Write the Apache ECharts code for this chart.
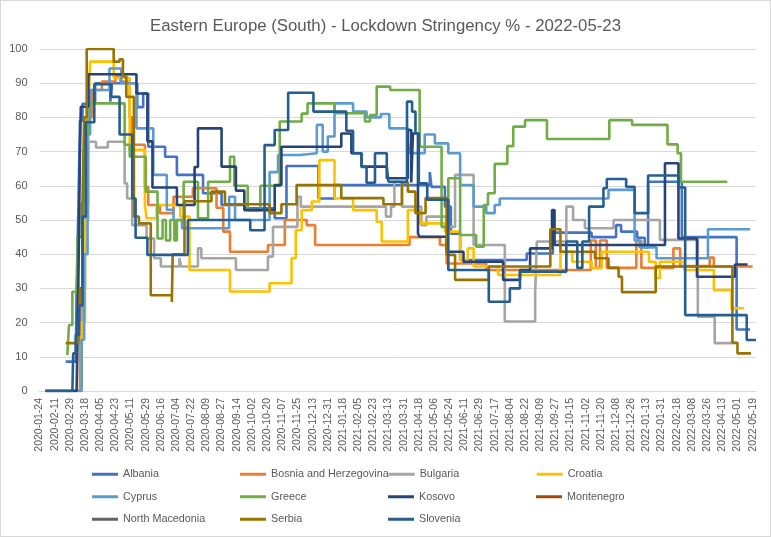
<!DOCTYPE html>
<html><head><meta charset="utf-8">
<script src="https://cdn.jsdelivr.net/npm/echarts@6/dist/echarts.min.js"></script>
<style>
html,body{margin:0;padding:0;background:#fff}
#wrap{position:relative;width:771px;height:537px}
#c{position:absolute;left:0;top:0;width:771px;height:537px}
#b{position:absolute;left:0;top:0;width:771px;height:537px;box-sizing:border-box;border:1px solid #d9d9d9;pointer-events:none}
</style>
</head><body><div id="wrap"><div id="c"></div><div id="b"></div></div>
<script>
// x = days since START (2020-01-24); each point = [day the value starts, stringency %]
const START = '2020-01-24';
const TITLE = 'Eastern Europe (South) - Lockdown Stringency % - 2022-05-23';
const names = ['Albania','Bosnia and Herzegovina','Bulgaria','Croatia','Cyprus','Greece','Kosovo','Montenegro','North Macedonia','Serbia','Slovenia'];
const colors = ['#4472C4','#ED7D31','#A5A5A5','#FFC000','#5B9BD5','#70AD47','#264478','#9E480E','#636363','#997300','#255E91'];

const albania = [[31,8.6],[43,8.6],[44,30],[46,52],[48,79],[51,84],[66,90],[84,84.6],[86,90],[116,83],[123,87],[129,71.4],[149,68.5],[163,63.2],[194,57.8],[216,54.4],[243,53.4],[279,50.5],[293,65.8],[331,56.3],[350,60.2],[463,64],[465,59.7],[481,53.9],[488,46],[499,38.3],[578,40.2],[609,46.3],[655,45],[684,48.5],[690,46.6],[709,44.8],[718,42],[722,61.2],[762,45],[827,18],[843,18]];
const bosnia = [[7,0],[45,0],[48,30],[52,60],[56,80],[62,88],[74,90.5],[90,92],[96,90.5],[107,80],[110,72],[125,59.7],[129,54.4],[143,52],[159,56.8],[182,59.3],[210,53.6],[218,46.6],[226,40.7],[271,42.7],[291,50],[317,48.5],[327,42.7],[439,45],[475,42.7],[483,37.3],[530,35.4],[654,44],[660,36],[665,44],[673,36],[708,44],[714,36],[752,41.7],[760,36.5],[795,39],[800,36.4],[846,36.4]];
const bulgaria = [[7,0],[46,0],[50,30],[54,55],[58,72.9],[67,71.2],[81,72.9],[101,60.7],[104,56.3],[110,48.5],[127,44.6],[136,38.8],[144,36.4],[166,38.8],[168,36.4],[188,41.7],[192,38.8],[233,35.4],[271,39.3],[277,48],[306,56.8],[310,53.9],[411,51],[417,53.9],[421,61.2],[430,53.9],[453,48.5],[459,51],[483,48],[493,63.2],[515,42.7],[552,20.3],[588,28.6],[590,43.7],[625,53.9],[633,50],[647,47.6],[681,50],[736,44.2],[781,21.7],[801,14],[826,14]];
const croatia = [[7,0],[46,0],[50,20],[54,50],[58,80],[60,96.3],[88,91.5],[107,70.5],[125,54.4],[127,50.5],[139,54.4],[167,51],[178,35.4],[226,29.1],[273,31.5],[299,38.8],[304,47],[311,52.9],[323,55.4],[332,67.5],[350,56.3],[372,52.9],[400,49.5],[406,43.7],[437,52.9],[451,49],[481,46.6],[499,38.3],[508,41.7],[515,36.4],[544,33.9],[618,40.7],[632,37.8],[655,35.9],[667,40.7],[723,37.8],[731,33],[736,37.8],[765,35.4],[800,29.5],[821,24.2],[836,24.2]];
const cyprus = [[7,0],[47,0],[50,15],[53,40],[57,75],[60,88],[83,94.3],[97,90],[115,76.8],[135,63.2],[151,53],[159,50],[169,47.6],[225,56.8],[232,50],[268,50],[273,64],[283,69],[309,69.5],[329,77.8],[336,70],[342,74.4],[350,84.1],[372,81.7],[388,80],[405,81],[415,76.8],[437,72.9],[439,69.5],[457,75],[469,72.4],[485,69.5],[499,60.2],[515,53.9],[530,52],[540,54.4],[546,56.3],[675,58.8],[706,44],[712,42],[732,38.8],[793,47.3],[843,47.3]];
const greece = [[33,10.5],[35,19.3],[39,29],[45,45],[50,55],[54,75],[58,84.1],[101,72],[107,68.5],[126,58.3],[140,44.6],[146,50],[150,44],[155,50],[160,44],[163,50],[171,61.2],[188,50.5],[200,61.2],[226,68.5],[231,60],[247,52.9],[262,60],[285,78.8],[311,81.1],[318,84.1],[350,81.2],[386,78.8],[392,80.7],[400,89],[416,88],[451,71.4],[477,48],[485,62.2],[499,45.6],[518,42.2],[527,54.4],[532,57.8],[540,66.4],[555,71.6],[562,77.3],[576,79.2],[602,73.7],[676,79.2],[703,77.8],[745,72.1],[757,69.5],[761,61.2],[816,61.2]];
const kosovo = [[7,0],[44,0],[46,30],[48,70],[49,83.1],[58,92.6],[115,87],[128,73],[134,59.5],[163,54.4],[184,65.5],[188,76.8],[216,65.6],[233,58.6],[243,52.9],[279,60.2],[287,71.4],[358,75.3],[370,69.5],[382,65.6],[412,62.2],[437,76.3],[441,61],[443,75.3],[449,46],[451,45.1],[483,40.7],[503,37.8],[550,32.5],[570,35.4],[582,41.7],[608,52.9],[611,42.7],[742,66.6],[758,44.6],[780,33.4],[825,37],[840,37]];
const montenegro = [];
const northMacedonia = [];
const serbia = [[31,14],[46,14],[48,30],[51,55],[53,80],[56,100],[88,96.3],[95,97],[99,92],[103,86],[112,51],[118,49],[132,28],[157,26],[158,40],[172,55.5],[204,58.3],[220,54.6],[273,52],[287,54.6],[305,60.2],[358,56.4],[408,54.6],[430,61],[437,58.3],[446,52],[458,56.4],[483,39.8],[493,32.5],[533,36.4],[606,47.3],[618,40.7],[659,38.8],[675,36],[687,33.4],[691,28.9],[731,36.4],[822,14.1],[828,11],[844,11]];
const slovenia = [[7,0],[39,0],[40,11],[43,16.4],[47,25],[51,51],[55,78.6],[65,89.7],[85,86],[95,75],[110,56.3],[114,44.8],[128,39.8],[176,50],[250,47],[267,71.9],[279,76.3],[295,87.2],[325,81.7],[364,76.1],[372,69.5],[382,65.5],[388,60.9],[398,69.5],[412,65.5],[414,61.2],[436,84.6],[442,81.7],[446,75.3],[450,60.7],[460,55.9],[485,35.4],[533,26.1],[558,30],[570,34.9],[625,43.7],[638,36],[644,43.7],[652,53.9],[669,59.3],[673,62],[696,59.7],[706,52],[722,63],[758,59.5],[766,22.2],[839,14.9],[850,14.9]];

const seriesData = [albania,bosnia,bulgaria,croatia,cyprus,greece,kosovo,montenegro,northMacedonia,serbia,slovenia];
const LAST_DAY = 850, TICK_DAYS = 18;
const startMs = Date.parse(START + 'T00:00:00Z');
function dayLabel(d){
  const t = new Date(startMs + d*86400000);
  const p = n => String(n).padStart(2,'0');
  return t.getUTCFullYear() + '-' + p(t.getUTCMonth()+1) + '-' + p(t.getUTCDate());
}
const FONT = '"Liberation Sans", Arial, sans-serif';
const chart = echarts.init(document.getElementById('c'), null, {renderer:'canvas'});
chart.setOption({
  animation:false,
  color: colors,
  textStyle:{fontFamily:FONT},
  title:{text:TITLE,left:'center',top:13,textStyle:{color:'#595959',fontSize:16.8,fontWeight:'normal',fontFamily:FONT}},
  grid:{left:39.5,right:15,top:49,bottom:146,containLabel:false},
  xAxis:{type:'value',min:0,max:LAST_DAY,interval:TICK_DAYS,
    axisLine:{show:true,lineStyle:{color:'#D9D9D9',width:1}},
    axisTick:{show:false},splitLine:{show:false},
    axisLabel:{rotate:90,margin:7,color:'#595959',fontSize:10.5,fontFamily:FONT,
      formatter:v=> (v % TICK_DAYS === 0 ? dayLabel(v) : '')}},
  yAxis:{type:'value',min:0,max:100,interval:10,
    axisLine:{show:false},axisTick:{show:false},
    splitLine:{lineStyle:{color:'#D9D9D9',width:1}},
    axisLabel:{color:'#595959',fontSize:11,margin:12,fontFamily:FONT}},
  legend:{left:92,top:463,width:600,padding:0,itemGap:0,itemWidth:26,itemHeight:3,icon:'rect',
    textStyle:{color:'#595959',fontSize:10.8,width:117,lineHeight:22.5,fontFamily:FONT},
    data:names},
  series: names.map((n,i)=>({name:n,type:'line',step:'end',showSymbol:false,
    lineStyle:{width:2.6,color:colors[i]},itemStyle:{color:colors[i]},
    data:seriesData[i]}))
});
</script></body></html>
